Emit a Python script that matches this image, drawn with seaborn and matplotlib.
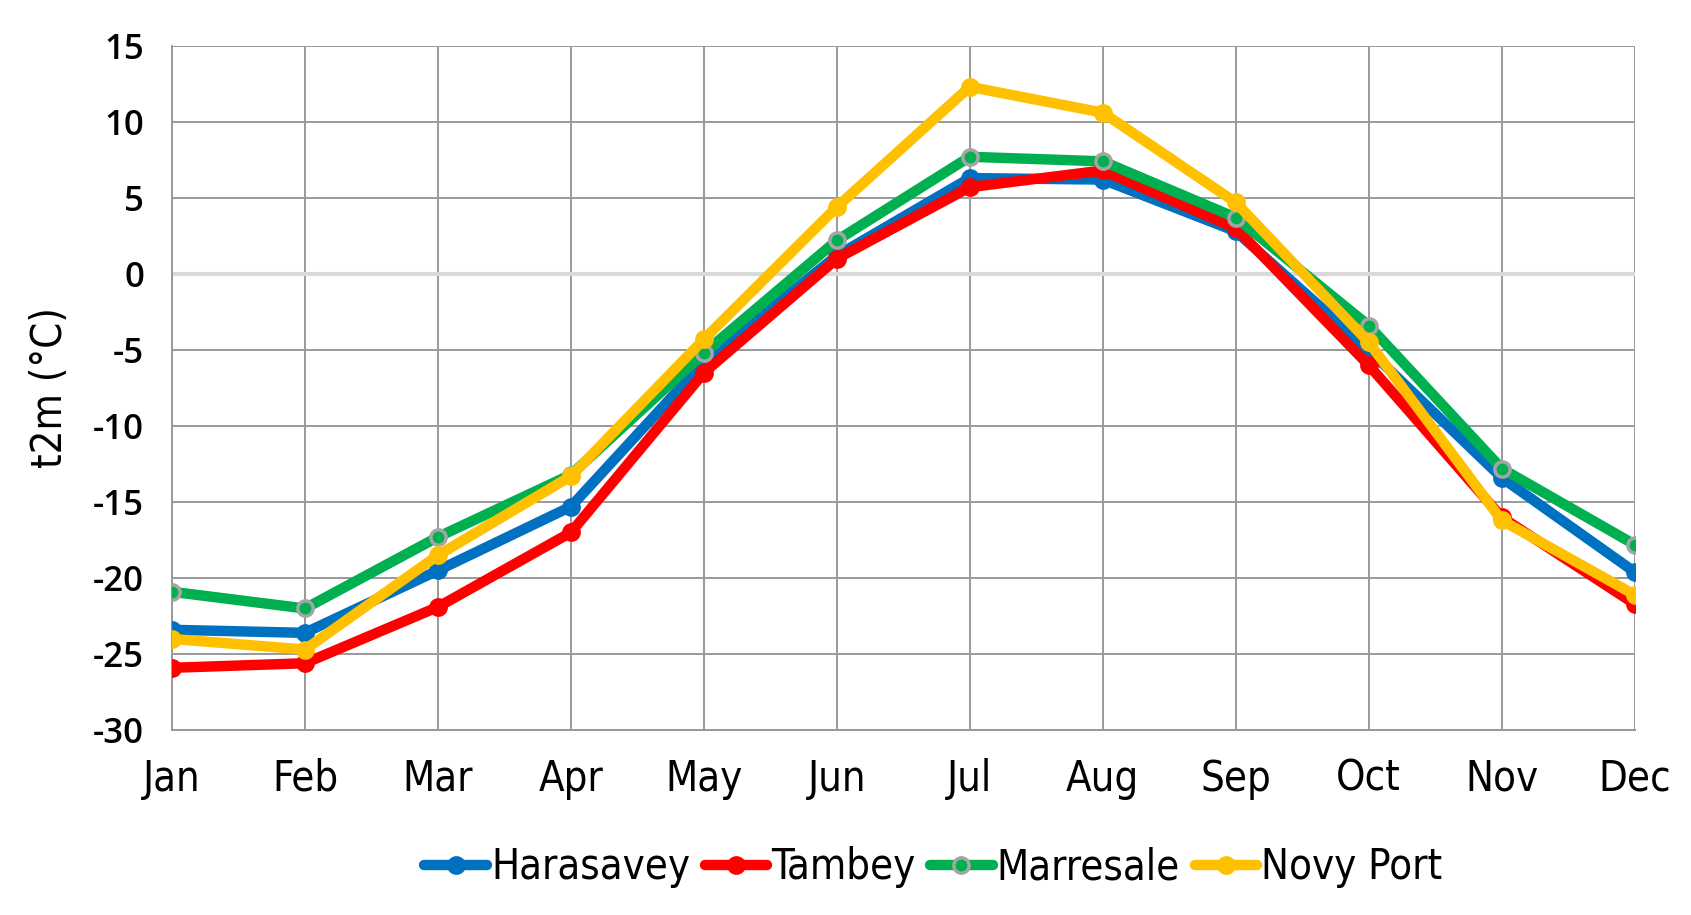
import matplotlib
matplotlib.use("Agg")
import matplotlib.pyplot as plt
import seaborn as sns
import pandas as pd
from matplotlib.lines import Line2D

# Monthly mean 2 m temperature per station
months = ["Jan", "Feb", "Mar", "Apr", "May", "Jun", "Jul", "Aug", "Sep", "Oct", "Nov", "Dec"]
harasavey = [-23.4, -23.6, -19.5, -15.3, -5.8, 1.2, 6.3, 6.2, 2.8, -5.0, -13.4, -19.6]
tambey = [-25.9, -25.6, -21.9, -17.0, -6.5, 1.0, 5.7, 6.8, 3.0, -6.0, -16.0, -21.7]
marresale = [-20.9, -22.0, -17.3, -13.2, -5.2, 2.2, 7.7, 7.4, 3.7, -3.4, -12.8, -17.8]
novy_port = [-24.0, -24.7, -18.5, -13.3, -4.3, 4.4, 12.3, 10.6, 4.7, -4.5, -16.2, -21.1]

stations = ["Harasavey", "Tambey", "Marresale", "Novy Port"]
colors = {"Harasavey": "#0070C0", "Tambey": "#FF0000",
          "Marresale": "#00B050", "Novy Port": "#FFC000"}
edges = {"Harasavey": "#0070C0", "Tambey": "#FF0000",
         "Marresale": "#A5A5A5", "Novy Port": "#FFC000"}

df = pd.DataFrame({
    "month": list(range(12)) * 4,
    "t2m": harasavey + tambey + marresale + novy_port,
    "station": sum([[s] * 12 for s in stations], []),
})

sns.set_style("white")
narrow = dict(family=["DejaVu Sans"], stretch="condensed", color="black")

fig = plt.figure(figsize=(16.91, 9.15), dpi=100)
ax = fig.add_axes([0.1017, 0.202, 0.865, 0.748])

for s in stations:
    sub = df[df["station"] == s]
    sns.lineplot(data=sub, x="month", y="t2m", ax=ax, color=colors[s],
                 linewidth=7.5, marker="o", markersize=11,
                 markerfacecolor=colors[s], markeredgecolor=edges[s],
                 markeredgewidth=2.5, zorder=3, legend=False)

ax.set_xlim(0, 11)
ax.set_ylim(-30, 15)
ax.set_xticks(range(12))
ax.set_xticklabels(months, fontsize=30, **narrow)
ax.set_yticks(range(-30, 16, 5))
ax.set_yticklabels([str(v) for v in range(-30, 16, 5)], fontsize=25,
                   family=["Open Sans", "DejaVu Sans"], weight="semibold",
                   color="black")
ax.tick_params(axis="x", length=0, pad=20)
ax.tick_params(axis="y", length=0, pad=20)

ax.grid(True, color="#999999", linewidth=1.4)
ax.axhline(0, color="#d9d9d9", linewidth=3, zorder=2)
for side in ["top", "right"]:
    ax.spines[side].set_visible(False)
for side in ["left", "bottom"]:
    ax.spines[side].set_color("#999999")
    ax.spines[side].set_linewidth(1.4)

ax.set_xlabel("")
ax.set_ylabel("t2m (\u00b0C)", fontsize=30, labelpad=16, **narrow)

handles = [Line2D([0], [0], color=colors[s], linewidth=7.5, marker="o",
                  markersize=11, markerfacecolor=colors[s],
                  markeredgecolor=edges[s], markeredgewidth=2.5)
           for s in stations]
leg = fig.legend(handles, stations, loc="center", bbox_to_anchor=(0.552, 0.052),
                 ncol=4, frameon=False, handlelength=1.5, handletextpad=0.1,
                 columnspacing=0.35,
                 prop={"family": "DejaVu Sans", "stretch": "condensed", "size": 30})
for t in leg.get_texts():
    t.set_color("black")

fig.savefig("out.png", dpi=100)
